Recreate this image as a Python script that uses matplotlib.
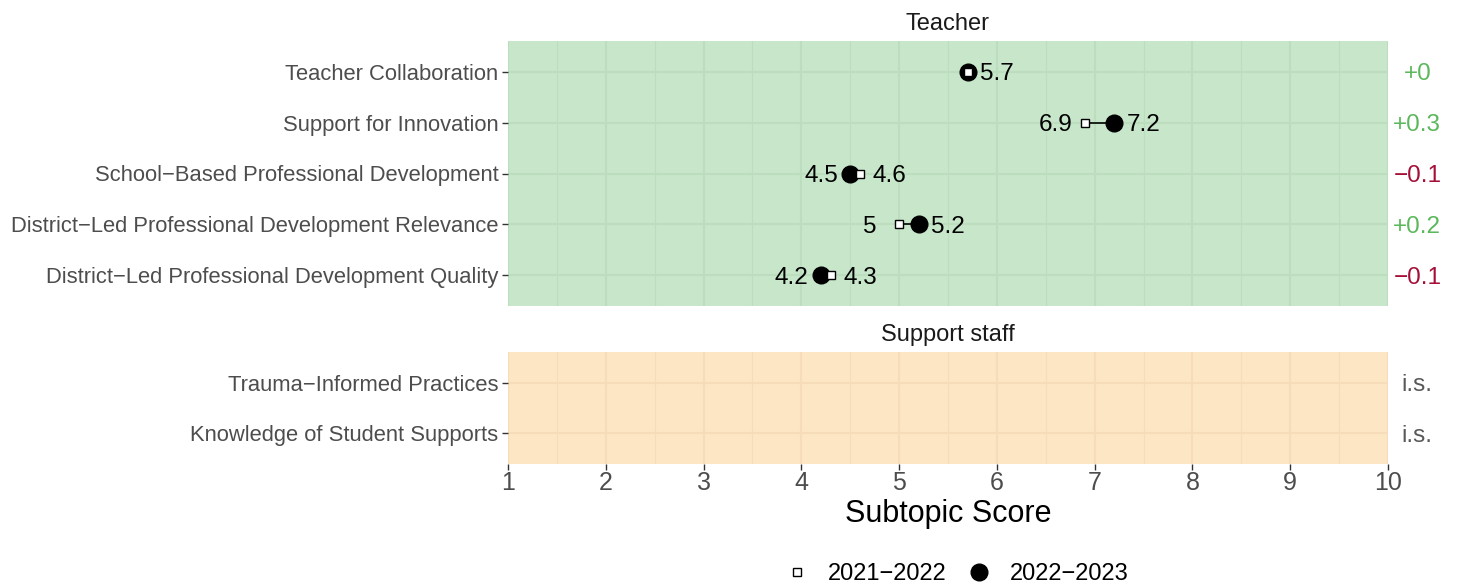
import matplotlib.pyplot as plt
from matplotlib.lines import Line2D

plt.rcParams['font.family'] = ['Liberation Sans', 'DejaVu Sans']

W, H = 1459, 586

teacher_items = ["Teacher Collaboration", "Support for Innovation",
                 "School\u2212Based Professional Development",
                 "District\u2212Led Professional Development Relevance",
                 "District\u2212Led Professional Development Quality"]
score_2122 = [5.7, 6.9, 4.6, 5.0, 4.3]
score_2223 = [5.7, 7.2, 4.5, 5.2, 4.2]
change_labels = ["+0", "+0.3", "\u22120.1", "+0.2", "\u22120.1"]

staff_items = ["Trauma\u2212Informed Practices", "Knowledge of Student Supports"]
staff_labels = ["i.s.", "i.s."]

GREEN_BG = "#c7e6ca"
ORANGE_BG = "#fde6c4"
POS = "#5cb85c"
NEG = "#a50f37"


def fmt(v):
    return f"{v:g}"


def px_axes(fig, x0, y0, x1, y1):
    return fig.add_axes([x0 / W, 1 - y1 / H, (x1 - x0) / W, (y1 - y0) / H])


def style_panel(ax, labels, bg, grid):
    n = len(labels)
    ax.set_facecolor(bg)
    ax.set_xlim(1, 10)
    ax.set_ylim(0.4, n + 0.6)
    ax.set_yticks(range(n, 0, -1))
    ax.set_yticklabels(labels, fontsize=15.8, color="#4d4d4d")
    ax.set_xticks(range(1, 11))
    ax.set_xticks([i + 0.5 for i in range(1, 10)], minor=True)
    ax.grid(True, which="major", color=grid, linewidth=1.5)
    ax.grid(True, which="minor", color=grid, linewidth=0.75)
    ax.set_axisbelow(True)
    for s in ax.spines.values():
        s.set_visible(False)
    ax.tick_params(axis="y", length=4, width=1, color="#333333", pad=3)
    ax.tick_params(axis="x", which="minor", length=0)


fig = plt.figure(figsize=(W / 100, H / 100), dpi=100)

# Teacher panel
ax1 = px_axes(fig, 508, 41, 1388, 306)
style_panel(ax1, teacher_items, GREEN_BG, "#bcdebf")
ax1.tick_params(axis="x", length=0, labelbottom=False)
n = len(teacher_items)
for i, (a, b, lab) in enumerate(zip(score_2122, score_2223, change_labels)):
    y = n - i
    ax1.plot([a, b], [y, y], color="black", lw=1.2, zorder=3)
    ax1.plot(b, y, "o", ms=12, color="black", zorder=4)
    ax1.plot(a, y, "s", ms=5.5, mfc="white", mec="black", mew=1, zorder=5)
    if a == b:
        ax1.text(b + 0.3, y, fmt(b), ha="center", va="center_baseline", fontsize=17.5)
    else:
        lo, hi = min(a, b), max(a, b)
        ax1.text(lo - 0.3, y, fmt(lo), ha="center", va="center_baseline", fontsize=17.5)
        ax1.text(hi + 0.3, y, fmt(hi), ha="center", va="center_baseline", fontsize=17.5)
    col = NEG if lab.startswith("\u2212") else POS
    ax1.text(10.3, y, lab, ha="center", va="center_baseline", fontsize=17.5,
             color=col, clip_on=False)
ax1.text(5.5, n + 0.6 + 0.38, "Teacher", ha="center", va="center_baseline",
         fontsize=17, color="#1a1a1a")

# Support staff panel
ax2 = px_axes(fig, 508, 352, 1388, 464)
style_panel(ax2, staff_items, ORANGE_BG, "#f6dcb8")
ax2.tick_params(axis="x", length=4, width=1, color="#333333", labelsize=18,
                labelcolor="#4d4d4d", pad=1)
m = len(staff_items)
for i, lab in enumerate(staff_labels):
    ax2.text(10.3, m - i, lab, ha="center", va="center_baseline", fontsize=17.5,
             color="#595959", clip_on=False)
ax2.text(5.5, m + 0.6 + 0.38, "Support staff", ha="center", va="center_baseline",
         fontsize=17, color="#1a1a1a")
ax2.set_xlabel("Subtopic Score", fontsize=22, labelpad=3)

handles = [Line2D([], [], ls="none", marker="s", ms=5.5, mfc="white", mec="black"),
           Line2D([], [], ls="none", marker="o", ms=12, color="black")]
fig.legend(handles, ["2021\u22122022", "2022\u22122023"], loc="center",
           bbox_to_anchor=(957 / W, 1 - 574 / H), ncol=2, frameon=False,
           fontsize=17, handlelength=1.0, handletextpad=0.8, columnspacing=0.9)

fig.savefig("out.png", dpi=100)
